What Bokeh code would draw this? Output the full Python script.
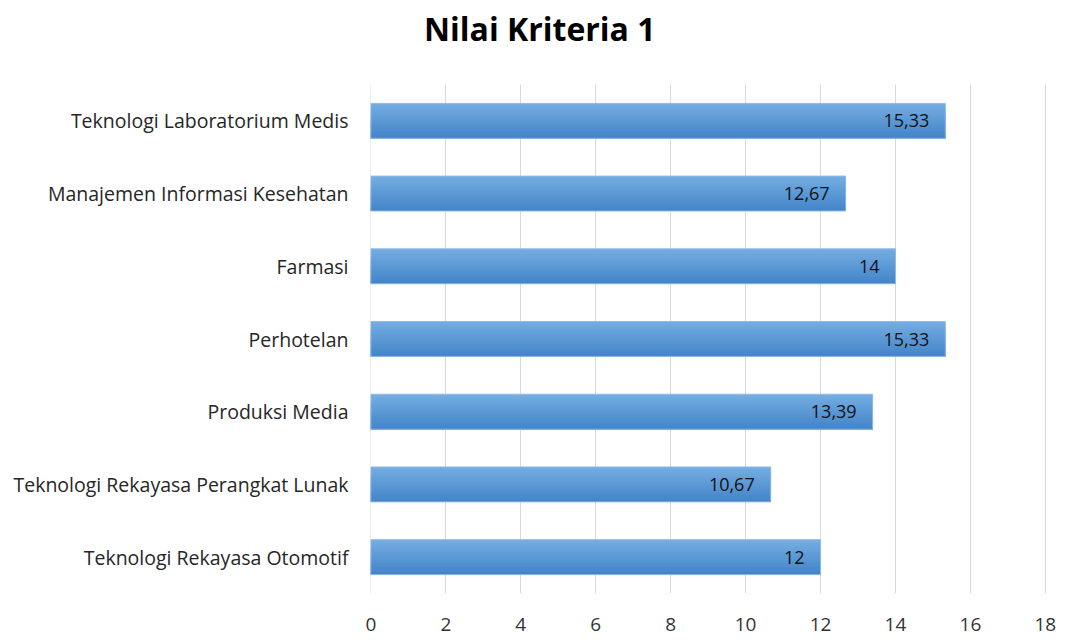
from bokeh.plotting import figure
from bokeh.models import ColumnDataSource, FactorRange, LabelSet, FixedTicker, Div
from bokeh.layouts import column
from bokeh.transform import dodge
from bokeh.core.properties import value
from bokeh.embed import file_html
from bokeh.resources import INLINE

title_text = "Nilai Kriteria 1"
categories = [
    "Teknologi Laboratorium Medis",
    "Manajemen Informasi Kesehatan",
    "Farmasi",
    "Perhotelan",
    "Produksi Media",
    "Teknologi Rekayasa Perangkat Lunak",
    "Teknologi Rekayasa Otomotif",
]
values = [15.33, 12.67, 14, 15.33, 13.39, 10.67, 12]
value_labels = ["15,33", "12,67", "14", "15,33", "13,39", "10,67", "12"]
x_ticks = [0, 2, 4, 6, 8, 10, 12, 14, 16, 18]

factors = list(reversed(categories))
src = ColumnDataSource(dict(cat=categories, val=values, lab=value_labels))

FONT = "Open Sans"
p = figure(
    width=1058, height=556, output_backend="svg", toolbar_location=None,
    y_range=FactorRange(*factors, range_padding=0), x_range=(-0.01, 18.03),
    min_border_left=370, min_border_right=12, min_border_top=0, min_border_bottom=47,
)
p.outline_line_color = None
p.background_fill_color = "white"

# gradient bars via overlapping strips (each strip covers from its top edge to bar bottom)
bar_h = 0.48
n = 14
c_top = (0x73, 0xac, 0xe1)
c_bot = (0x44, 0x85, 0xc9)
for i in range(n):
    t = i / (n - 1)
    col = "#%02x%02x%02x" % tuple(int(round(a + (b - a) * t)) for a, b in zip(c_top, c_bot))
    h = bar_h * (n - i) / n
    off = -bar_h / 2 + h / 2
    p.hbar(y=dodge("cat", off, range=p.y_range), right="val", left=0, height=h,
           source=src, fill_color=col, line_color=None)
p.hbar(y="cat", right="val", left=0, height=bar_h, source=src, fill_alpha=0,
       line_color="#8fbbe6", line_width=1)

labels = LabelSet(x="val", y="cat", text="lab", source=src, x_offset=-16,
                  text_align="right", text_baseline="middle", text_font=value(FONT),
                  text_font_size="18px", text_color="#111111")
p.add_layout(labels)

p.xaxis.ticker = FixedTicker(ticks=x_ticks)
p.xaxis.axis_line_color = None
p.xaxis.major_tick_line_color = None
p.xaxis.minor_tick_line_color = None
p.xaxis.major_label_text_font = FONT
p.xaxis.major_label_text_font_size = "19px"
p.xaxis.major_label_text_color = "#333333"
p.xaxis.major_label_standoff = 18

p.yaxis.axis_line_color = None
p.yaxis.major_tick_line_color = None
p.yaxis.minor_tick_line_color = None
p.yaxis.major_label_text_font = FONT
p.yaxis.major_label_text_font_size = "19.5px"
p.yaxis.major_label_text_color = "#262626"
p.yaxis.major_label_standoff = 16

p.xgrid.grid_line_color = "#d9d9d9"
p.xgrid.grid_line_width = 1
p.ygrid.grid_line_color = None

title_div = Div(
    text=title_text, width=1058, height=74,
    styles={
        "font-family": "'Open Sans', sans-serif",
        "font-weight": "bold",
        "font-size": "32px",
        "color": "#000000",
        "line-height": "48px",
        "padding-left": "419px",
        "box-sizing": "border-box",
        "white-space": "nowrap",
    },
)

layout = column(title_div, p, spacing=0)

open("out.html", "w").write(file_html(layout, INLINE))
